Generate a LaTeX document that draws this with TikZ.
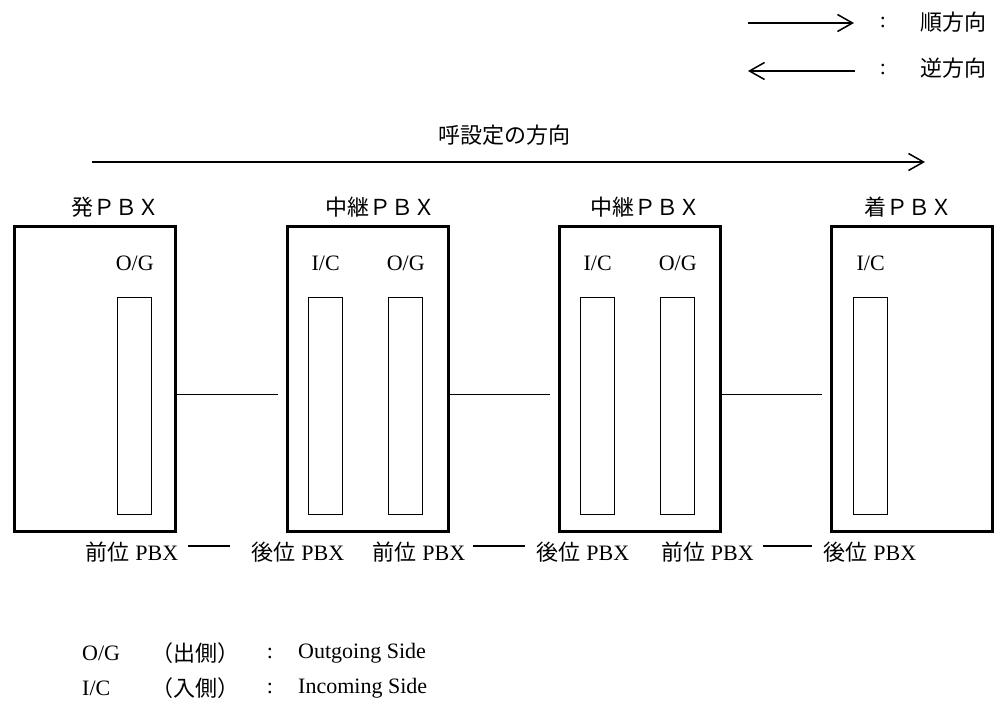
\documentclass[tikz,border=0pt]{standalone}
\usepackage{fontspec}
\setmainfont{Liberation Serif}
\newfontfamily\jp{Noto Sans CJK JP}
\usetikzlibrary{arrows.meta,calc}
\begin{document}
\begin{tikzpicture}[x=1bp,y=-1bp,
  every node/.style={inner sep=0pt, font=\fontsize{22bp}{26bp}\selectfont},
  pbx/.style={draw, line width=2.6bp, minimum width=161bp, minimum height=305bp, anchor=north west},
  slotbox/.style={draw, line width=1.4bp, minimum width=34bp, minimum height=217bp, anchor=north west},
  link/.style={line width=1.5bp},
  arr/.style={line width=1.5bp, -{Straight Barb[length=15bp,width=17bp,line width=1.5bp]}},
  lab/.style={minimum width=100bp}]
\useasboundingbox (0,0) rectangle (998,711);

% legend
\coordinate (la1) at (748,23);
\coordinate (lb1) at (854,23);
\coordinate (la2) at (855,71);
\coordinate (lb2) at (748,71);
\draw[arr] (la1) -- (lb1);
\draw[arr] (la2) -- (lb2);
\node (c1) at (883,22) {:};
\node (c2) at (883,69) {:};
\node (lt1) at (953,22) {\jp 順方向};
\node (lt2) at (953,68) {\jp 逆方向};

% call setup direction
\node (dirlab) at (504,135) {\jp 呼設定の方向};
\coordinate (dirL) at (92,162);
\coordinate (dirR) at (925,162);
\draw[arr] (dirL) -- (dirR);

% titles
\node (t1) at (115,207) {\jp 発ＰＢＸ};
\node (t2) at (380,207) {\jp 中継ＰＢＸ};
\node (t3) at (645,207) {\jp 中継ＰＢＸ};
\node (t4) at (908,207) {\jp 着ＰＢＸ};

% boxes
\node[pbx] (b1) at (13,225) {};
\node[pbx] (b2) at (286,225) {};
\node[pbx] (b3) at (558,225) {};
\node[pbx] (b4) at (830,225) {};

% slots
\node[slotbox] (s1) at (117,297) {};
\node[slotbox] (s2a) at (308,297) {};
\node[slotbox] (s2b) at (388,297) {};
\node[slotbox] (s3a) at (580,297) {};
\node[slotbox] (s3b) at (660,297) {};
\node[slotbox] (s4) at (853,297) {};

% slot labels
\node (g1) at (s1.center |- 0,263) {O/G};
\node (i2) at (s2a.center |- 0,263) {I/C};
\node (g2) at (s2b.center |- 0,263) {O/G};
\node (i3) at (s3a.center |- 0,263) {I/C};
\node (g3) at (s3b.center |- 0,263) {O/G};
\node (i4) at (s4.center |- 0,263) {I/C};

% connectors between PBXs
\draw[link, shorten >=8bp] ($(b1.east)+(0,15.5)$) -- ($(b2.west)+(0,15.5)$);
\draw[link, shorten >=8bp] ($(b2.east)+(0,15.5)$) -- ($(b3.west)+(0,15.5)$);
\draw[link, shorten >=8bp] ($(b3.east)+(0,15.5)$) -- ($(b4.west)+(0,15.5)$);

% bottom labels
\node[lab] (f1) at (132,552) {{\jp 前位} PBX};
\node[lab] (a1) at (298,552) {{\jp 後位} PBX};
\node[lab] (f2) at (419,552) {{\jp 前位} PBX};
\node[lab] (a2) at (583,552) {{\jp 後位} PBX};
\node[lab] (f3) at (707.5,552) {{\jp 前位} PBX};
\node[lab] (a3) at (870,552) {{\jp 後位} PBX};
\draw[link] ($(f1.east)+(6,-6)$) -- ($(a1.west)+(-18,-6)$);
\draw[link] ($(f2.east)+(4,-6)$) -- ($(a2.west)+(-8,-6)$);
\draw[link] ($(f3.east)+(5.5,-6)$) -- ($(a3.west)+(-8,-6)$);

% bottom legend
\node[anchor=west] (k1) at (82,653) {O/G};
\node[anchor=west] (k1j) at (151,653) {\jp （出側）};
\node (k1c) at (270,653) {:};
\node[anchor=west] (k1e) at (298,653) {Outgoing Side};
\node[anchor=west] (k2) at (82,688) {I/C};
\node[anchor=west] (k2j) at (151,688) {\jp （入側）};
\node (k2c) at (270,688) {:};
\node[anchor=west] (k2e) at (298,688) {Incoming Side};
\end{tikzpicture}
\end{document}
